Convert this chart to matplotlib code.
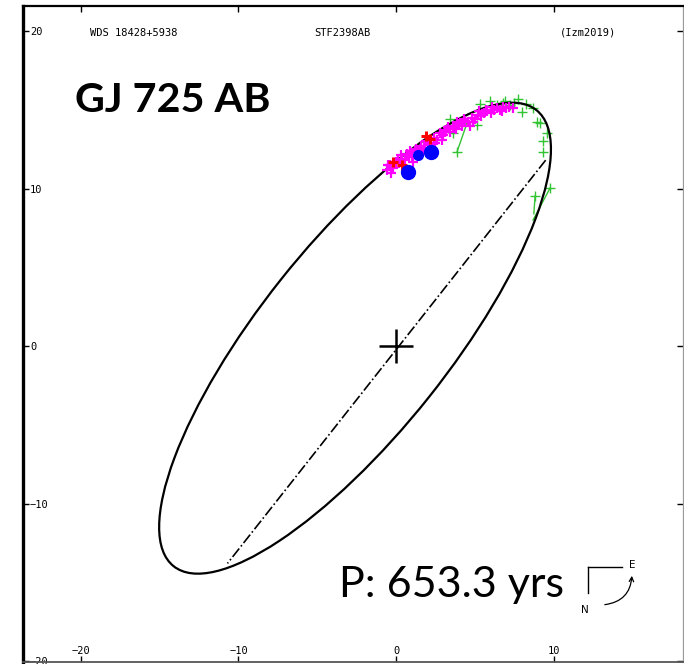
import matplotlib.pyplot as plt
from matplotlib.patches import Ellipse, FancyArrowPatch

# orbit (apparent ellipse) and line of nodes, arcsec
orbit_center = (-2.6, 0.5)
orbit_width = 37.0
orbit_height = 12.0
orbit_angle = 51.5
nodes_x = [9.5, -10.7]
nodes_y = [11.8, -13.8]

# observations
mag_x = [-0.6, -0.4, -0.2, 0.0, 0.2, 0.4, 0.6, 0.8, 1.0, 1.2, 1.4, 1.6, 1.8, 2.0,
         2.2, 2.4, 2.6, 2.8, 3.0, 3.2, 3.4, 3.6, 3.8, 4.0, 4.2, 4.4, 4.6, 4.8,
         5.0, 5.2, 5.4, 5.6, 5.8, 6.0, 6.2, 6.4, 6.6, 6.8, 7.0, 7.2, 7.4,
         0.3, 1.1, 2.1, 2.9, 3.9, 4.9, 5.7, -0.3, 0.9, 1.7, 3.3,
         -0.5, 0.1, 0.7, 1.3, 1.9, 2.5, 3.1, 3.7, 4.3, 4.7, 5.3, 6.1, 6.7]
mag_y = [11.2, 11.5, 11.3, 11.7, 11.6, 11.9, 11.8, 12.1, 12.0, 12.4, 12.3, 12.7, 12.6, 12.9,
         12.8, 13.2, 13.1, 13.5, 13.4, 13.7, 13.6, 13.9, 13.8, 14.1, 14.0, 14.3, 14.2, 14.5,
         14.4, 14.7, 14.6, 14.8, 14.9, 14.8, 15.0, 15.1, 15.0, 15.2, 15.1, 15.2, 15.1,
         12.1, 11.7, 12.5, 13.1, 14.2, 14.2, 15.0, 11.0, 12.4, 12.4, 13.9,
         11.5, 11.9, 12.2, 12.5, 13.0, 12.9, 13.6, 14.0, 14.4, 14.0, 14.9, 15.2, 14.9]
red_x = [2.16, 1.90, -0.19, 0.38]
red_y = [13.14, 13.33, 11.68, 11.49]
blue_x = [0.76, 2.22, 1.40]
blue_y = [11.05, 12.32, 12.13]
blue_size = [10, 10, 7]
green_x = [5.33, 6.92, 7.75, 8.25, 8.70, 8.95, 9.59, 9.33, 9.33, 6.79, 7.24, 8.00,
           3.43, 3.62, 5.14, 3.87, 9.14, 9.78, 8.83, 5.97, 7.49, 6.41]
green_y = [15.37, 15.56, 15.68, 15.37, 15.11, 14.22, 13.52, 13.02, 12.32, 15.43, 15.30, 14.86,
           14.41, 13.52, 14.03, 12.32, 14.16, 10.03, 9.52, 15.56, 15.43, 15.30]
# O-C residual lines: (obs x, obs y, calc x, calc y)
resid = [(3.87, 12.32, 4.51, 14.16), (9.78, 10.03, 8.70, 8.0), (8.83, 9.52, 8.75, 8.4)]

xticks = [-20, -10, 0, 10]
yticks = [-20, -10, 0, 10, 20]

fig = plt.figure(figsize=(6.84, 6.64), dpi=100)
ax = fig.add_axes([23 / 684, 2 / 664, 660 / 684, 656 / 664])
ax.set_xlim(-23.68, 18.22)
ax.set_ylim(-20.06, 21.59)

ax.add_patch(Ellipse(orbit_center, orbit_width, orbit_height, angle=orbit_angle,
                     fill=False, color='black', lw=1.6, zorder=3))
ax.plot(nodes_x, nodes_y, color='black', ls='-.', lw=1.2, zorder=2)
ax.plot([0], [0], marker='+', color='black', ms=24, mew=1.8, zorder=4)

for ox, oy, cx, cy in resid:
    ax.plot([ox, cx], [oy, cy], color='#33c433', lw=1, zorder=2)
ax.plot(green_x, green_y, ls='none', marker='+', color='#33c433', ms=7, mew=1, zorder=2)
ax.plot(mag_x, mag_y, ls='none', marker='+', color='#ff00ff', ms=6.5, mew=1.6, zorder=3)
ax.plot(red_x, red_y, ls='none', marker='+', color='#ff0000', ms=7, mew=2.2, zorder=4)
for bx, by, bs in zip(blue_x, blue_y, blue_size):
    ax.plot(bx, by, ls='none', marker='o', color='#0000ff', ms=bs, zorder=5)

# frame
ax.spines['left'].set_linewidth(2.4)
ax.spines['top'].set_linewidth(1.6)
ax.spines['right'].set_color('#999999')
ax.spines['right'].set_linewidth(0.9)
ax.spines['bottom'].set_color('#555555')
ax.spines['bottom'].set_linewidth(1.3)

ax.set_xticks(xticks)
ax.set_yticks(yticks)
ax.tick_params(direction='in', length=4, width=1, top=True, right=True,
               labelsize=7.5, colors='black')
ax.tick_params(axis='y', pad=-5)
ax.tick_params(axis='x', pad=-4)
for lab in ax.get_yticklabels():
    lab.set_ha('left')
    lab.set_family('DejaVu Sans Mono')
for lab in ax.get_xticklabels():
    lab.set_va('bottom')
    lab.set_family('DejaVu Sans Mono')

mono = dict(family='DejaVu Sans Mono', fontsize=7.5, va='center')
ax.text(-19.4, 19.9, 'WDS 18428+5938', ha='left', **mono)
ax.text(-3.4, 19.9, 'STF2398AB', ha='center', **mono)
ax.text(10.4, 19.9, '(Izm2019)', ha='left', **mono)

ax.text(-20.4, 15.6, 'GJ 725 AB', family='Lato', weight='bold', fontsize=29.8,
        ha='left', va='center')
ax.text(-3.6, -15.2, 'P: 653.3 yrs', family='Lato', fontsize=31,
        ha='left', va='center')

# compass
ax.plot([12.19, 14.35], [-14.03, -14.03], color='black', lw=1)
ax.plot([12.19, 12.19], [-14.03, -15.68], color='black', lw=1)
ax.text(14.98, -13.9, 'E', fontsize=7.5, ha='center', va='center')
ax.text(12.0, -16.76, 'N', fontsize=7.5, ha='center', va='center')
ax.add_patch(FancyArrowPatch((13.08, -16.44), (14.98, -14.41),
                             connectionstyle='arc3,rad=0.45', arrowstyle='->',
                             mutation_scale=8, color='black', lw=0.9))

fig.savefig('out.png', dpi=100)
